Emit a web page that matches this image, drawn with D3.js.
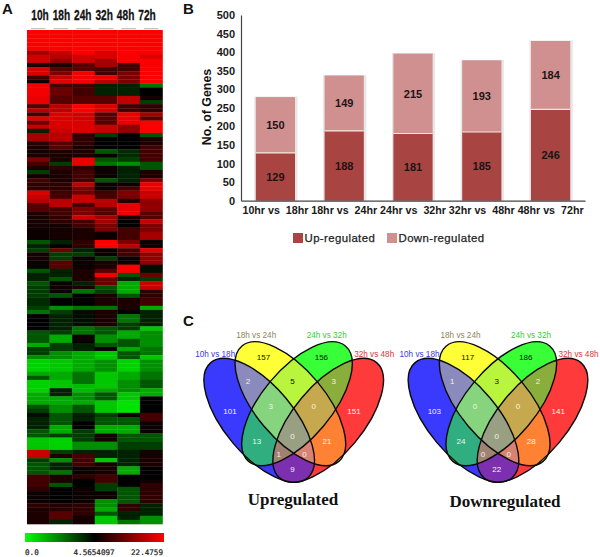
<!DOCTYPE html>
<html>
<head>
<meta charset="utf-8">
<style>
html, body { margin: 0; padding: 0; background: #fff; }
svg { display: block; }
text { font-family: "Liberation Sans", Arial, sans-serif; }
</style>
<script src="https://cdn.jsdelivr.net/npm/d3@7"></script>
</head>
<body>
<script>
// heat map, one array per time point, top row first
var heatColumns = ["10h", "18h", "24h", "32h", "48h", "72h"];
var col10h = [22,22,22,22,22,13,17,17,6,18,
  18,8,5,21,21,21,20,20,9,14,
  8,19,10,16,4,13,13,7,6,5.5,
  6,11,8,6,3.5,5,8,7,7,18,
  16,14,9,9,6,6,5.5,5.5,5,5,
  5,3,4,3.5,5.5,5.5,5,5,3,4,
  4,3,3.5,3.5,3.5,3.8,3.8,3.5,2.5,4.8,
  4.8,4.8,4.8,3,3,3,1.5,3.5,3.5,2,
  .8,.8,.8,1.5,3,.8,.8,.8,1.5,1.5,
  1.5,3,3.5,4.4,4,4,4,3,3,1,
  1,1,16,16,3.5,3,3,3,8,8,
  8,7,5,5,5,7,6,6,6,6];
var col18h = [22,22,22,22,22,16,14,12,6,9,
  11,16,19,8,10,10,9,9,14,14,
  18,18,18,18,16,14,14,9,9,6,
  6,6,3.5,7,6,6,6,7,7,8,
  8,14,14,8,8,7,7,5.5,5.5,5.5,
  5.5,4,4.8,10,3.5,3.5,9,9,4,4,
  3,5,5,5,3,4.5,4.5,2,3.5,4,
  4,4,4,3.5,1.5,1.5,3.5,3.5,2,2,
  1,1,1,1.5,1.5,1,1,4,4,1.5,
  1.5,2,2,3,3,3,1.5,1.5,3.5,.8,
  .8,.8,3.5,6,2,4,4,2.5,6,6,
  3,4.8,4.8,4.8,4.8,6.5,6.5,9,9,4];
var col24h = [22,22,22,22,22,22,17,17,9,9,
  21,21,21,8,8,8,9,9,22,22,
  17,17,18,18,18,7,7,7,6,6,
  6,20,20,7,8,8,8,15,11,10,
  16,16,8,11,11,17,8,8,6,6,
  6,7,7,4,3.5,5,5,5,6,6,
  6,4,6,2.5,4.5,4.5,4.5,2.5,4.4,4.4,
  4.4,4.4,2.5,2.5,5,5,4,4,1.5,1.5,
  1.5,1.5,1.5,2.5,2.5,2.5,1.2,1.2,2,2,
  1.5,3,3,4,4,4.5,4.5,3.5,3.5,3.5,
  2,2,4,8,8,8,5,5,7,4.5,
  4.5,5,5,5,5,7,7,7,5.5,5.5];
var col32h = [22,22,22,22,22,18,18,13,13,8,
  8,20,14,4,4,4,9,9,18,18,
  9,9,9,16,16,3.5,4.5,4.5,4.5,3,
  5,3,2.5,5,5,5,3,5,5,8,
  8,14,14,9,9,13,13,11,11,5,
  5,22,22,5,5,3.5,6,6,9,21,
  10,10,3,3.5,6,6,6,2.5,6,6,
  6,6,3,3,2,2,3,5,1,1,
  2,2,2,1,1,1,1,1.5,3,3,
  1,1,1,3.5,3,3,1.5,1.5,5.5,5.5,
  2,2,4,4,1,5.5,5.5,5.5,8,8,
  3.5,3.5,5,5,2,2,1.5,3,1,1];
var col48h = [22,22,22,22,22,22,22,22,8,8,
  11,11,11,4,4,4,15,15,8,8,
  20,20,20,12,12,4.5,4.5,4.5,4.5,3.8,
  3.8,3.5,2,4,4,4,4,5,8,11,
  11,6,20,20,20,6,4.8,4.8,8,8,
  8,11,15,8,8,5,5,22,22,3,
  4,1.5,1.5,1.5,3,6,6,6,4.6,2.5,
  2.5,3.5,3.5,1.5,1.5,3,3,1.5,3,3,
  .8,.8,.8,1.5,1.5,2,2,2,1,1,
  .5,.5,.5,5,3,3,1.5,1.5,3,3,
  3.5,3.5,4,4,4,4,1.5,1.5,4.5,4.5,
  4.5,3,3,3,3,7,7,4,4,2.5];
var col72h = [22,22,22,22,22,22,18,22,22,22,
  22,22,22,2.5,4.5,4.5,5.5,3.5,7,7,
  13,9,22,22,22,3,6,6,8,8,
  8,8,3,3,6,6,11,20,20,16,
  16,12,12,12,9,9,16,11,11,13,
  13,5,5,19,12,12,12,4.4,4.4,10,
  3.5,16,16,7,7,8,8,1.5,4,4,
  4,4,1,2,2,2,2,2.5,2.5,1,
  2,2,2,2.5,2.5,3,3,1.5,1.5,4.8,
  4.8,4.8,4.8,8,8,5,5,5,3,3,
  3.5,3.5,5.5,5.5,6,6,4.6,4.6,4.6,5,
  7,7,7,7,7,4,4,4,2,2];
var heatValues = [col10h, col18h, col24h, col32h, col48h, col72h];
var heatLegend = ["0.0", "4.5654097", "22.4759"];

// stacked bars
var comparisons = ["10hr vs  18hr", "18hr vs  24hr", "24hr vs  32hr", "32hr vs  48hr", "48hr vs  72hr"];
var upRegulated = [129, 188, 181, 185, 246];
var downRegulated = [150, 149, 215, 193, 184];

// venn counts, same order as vennRegions below
var vennUp = [101, 157, 156, 151, 2, 5, 3, 3, 0, 13, 21, 0, 1, 0, 9];
var vennDown = [103, 117, 186, 141, 1, 3, 2, 0, 0, 24, 28, 0, 0, 0, 22];
var vennSets = ["10h vs 18h", "18h vs 24h", "24h vs 32h", "32h vs 48h"];

var width = 600, height = 557;
var svg = d3.select("body").append("svg")
    .attr("width", width)
    .attr("height", height)
    .style("background", "#fff");

function panelLetter(s, x, y) {
  svg.append("text").attr("x", x).attr("y", y).text(s)
      .attr("font-size", 15).attr("font-weight", "bold").attr("fill", "#111");
}
panelLetter("A", 2, 14);
panelLetter("B", 183, 14);
panelLetter("C", 183, 326);

// ---- A: heat map
var heatX = d3.scaleBand().domain(heatColumns).range([27, 162.5]);
var heatY = d3.scaleBand().domain(d3.range(col10h.length)).range([30, 524]);
var heatColor = d3.scaleLinear()
    .domain([0, 4.5654097, 14, 22.4759])
    .range(["#00ff00", "#000000", "#b80000", "#ff0000"])
    .clamp(true);

// the source is a soft raster, a slight blur keeps the rows from looking too crisp
svg.append("defs").append("filter").attr("id", "soft")
    .append("feGaussianBlur").attr("stdDeviation", 0.45);

var heatLabelX = d3.scalePoint().domain(heatColumns).range([40, 147]);
heatColumns.forEach(function(c) {
  svg.append("text")
      .attr("transform", "translate(" + heatLabelX(c) + ",20) scale(0.7,1)")
      .attr("text-anchor", "middle")
      .attr("font-size", 14.5).attr("font-weight", "bold").attr("fill", "#111")
      .attr("stroke", "#111").attr("stroke-width", 0.3)
      .text(c);
});

svg.selectAll("rect.stub")
    .data(heatColumns)
    .enter().append("rect").attr("class", "stub")
    .attr("x", function(d) { return heatX(d) + 4; })
    .attr("y", 28)
    .attr("width", heatX.bandwidth() - 8)
    .attr("height", 1.2)
    .attr("fill", "#c4c4c4");

svg.append("g").attr("filter", "url(#soft)").selectAll("g")
    .data(heatValues)
    .enter().append("g")
    .attr("transform", function(d, i) { return "translate(" + heatX(heatColumns[i]) + ",0)"; })
    .selectAll("rect")
    .data(function(d) { return d; })
    .enter().append("rect")
    .attr("y", function(d, i) { return heatY(i); })
    .attr("width", heatX.bandwidth() + 0.3)
    .attr("height", heatY.bandwidth() + 0.3)
    .attr("fill", function(d) { return heatColor(d); });

var grad = svg.append("defs").append("linearGradient").attr("id", "heatGrad");
grad.selectAll("stop")
    .data(["#00ff00", "#000000", "#ff0000"])
    .enter().append("stop")
    .attr("offset", function(d, i) { return i / 2; })
    .attr("stop-color", function(d) { return d; });
svg.append("rect")
    .attr("x", 25).attr("y", 533).attr("width", 139).attr("height", 9)
    .attr("fill", "url(#heatGrad)");
var legendPos = [25, 73.5, 131];
heatLegend.forEach(function(t, i) {
  svg.append("text")
      .attr("x", legendPos[i]).attr("y", 555)
      .attr("font-size", 7.6).attr("fill", "#222")
      .attr("stroke", "#222").attr("stroke-width", 0.2)
      .style("font-family", "'DejaVu Sans Mono', monospace")
      .text(t);
});

// ---- B: stacked bars
var barX = d3.scaleBand().domain(comparisons).range([241, 585]).paddingInner(0.43).paddingOuter(0.215);
var barY = d3.scaleLinear().domain([0, 500]).range([200.7, 15]);
var upColor = "#a84442", downColor = "#d09090";

var stack = d3.stack().keys(["up", "down"])(comparisons.map(function(c, i) {
  return { name: c, up: upRegulated[i], down: downRegulated[i] };
}));

// pale shadow behind each column
svg.append("g").selectAll("rect")
    .data(stack[1])
    .enter().append("rect")
    .attr("x", function(d) { return barX(d.data.name) - 1.5; })
    .attr("y", function(d) { return barY(d[1]) - 0.5; })
    .attr("width", barX.bandwidth() + 4)
    .attr("height", function(d) { return barY(0) - barY(d[1]) + 0.5; })
    .attr("fill", "#e8e6e6");

svg.append("g").selectAll("g")
    .data(stack)
    .enter().append("g")
    .attr("fill", function(d) { return d.key === "up" ? upColor : downColor; })
    .selectAll("rect")
    .data(function(d) { return d; })
    .enter().append("rect")
    .attr("x", function(d) { return barX(d.data.name); })
    .attr("y", function(d) { return barY(d[1]); })
    .attr("width", barX.bandwidth())
    .attr("height", function(d) { return barY(d[0]) - barY(d[1]); });

// thin light seam between the two segments
svg.append("g").selectAll("line")
    .data(stack[0])
    .enter().append("line")
    .attr("x1", function(d) { return barX(d.data.name); })
    .attr("x2", function(d) { return barX(d.data.name) + barX.bandwidth(); })
    .attr("y1", function(d) { return barY(d[1]); })
    .attr("y2", function(d) { return barY(d[1]); })
    .attr("stroke", "#f6e8d8").attr("stroke-width", 1.2);

stack.forEach(function(s) {
  svg.append("g").selectAll("text")
      .data(s)
      .enter().append("text")
      .attr("x", function(d) { return barX(d.data.name) + barX.bandwidth() / 2; })
      .attr("y", function(d) { return barY((d[0] + d[1]) / 2) + 4; })
      .attr("text-anchor", "middle")
      .attr("font-size", 11).attr("font-weight", "bold").attr("fill", "#1c1414")
      .text(function(d) { return d[1] - d[0]; });
});

var yAxis = svg.append("g").attr("transform", "translate(241,0)")
    .call(d3.axisLeft(barY).tickValues(d3.range(0, 501, 50)).tickSize(0).tickPadding(6));
var xAxis = svg.append("g").attr("transform", "translate(0,200.7)")
    .call(d3.axisBottom(barX).tickSize(0).tickPadding(6));
[yAxis, xAxis].forEach(function(a) {
  a.select(".domain").attr("stroke", "#444").attr("stroke-width", 1.2);
  a.selectAll("text")
      .attr("font-size", 11).attr("font-weight", "bold").attr("fill", "#1a1a1a")
      .style("font-family", "'Liberation Sans', Arial, sans-serif");
});
xAxis.selectAll("text").style("white-space", "pre").attr("font-size", 10.7);

svg.append("text")
    .attr("transform", "translate(211,107) rotate(-90)")
    .attr("text-anchor", "middle")
    .attr("font-size", 12.4).attr("font-weight", "bold").attr("fill", "#111")
    .text("No. of Genes");

var barLegend = svg.append("g");
[["Up-regulated", upColor, 293], ["Down-regulated", downColor, 387]].forEach(function(d) {
  barLegend.append("rect").attr("x", d[2]).attr("y", 233).attr("width", 10).attr("height", 10).attr("fill", d[1]);
  barLegend.append("text").attr("x", d[2] + 11.5).attr("y", 241.5)
      .attr("font-size", 11.4).attr("fill", "#222").attr("stroke", "#222").attr("stroke-width", 0.25)
      .style("letter-spacing", "0.4px")
      .text(d[0]);
});

// ---- C: four-ellipse venns
var ellipses = [
  { id: "b", dx: -34.5, cy: 420.3, rot: 50, fill: "#3a3aff" },
  { id: "y", dx: -3.3, cy: 403.7, rot: 50, fill: "#ffff38" },
  { id: "g", dx: 3.3, cy: 403.7, rot: -50, fill: "#38ff38" },
  { id: "r", dx: 34.5, cy: 420.3, rot: -50, fill: "#ff3a3a" }
];
var rx = 75.3, ry = 34.7;

function ellipseAttrs(sel, e) {
  sel.attr("rx", rx).attr("ry", ry)
     .attr("transform", "translate(" + e.dx + "," + e.cy + ") rotate(" + e.rot + ")");
}
var byId = {};
ellipses.forEach(function(e) { byId[e.id] = e; });

var clipDefs = svg.append("defs");
ellipses.forEach(function(e) {
  clipDefs.append("clipPath").attr("id", "clip-" + e.id)
      .append("ellipse").call(ellipseAttrs, e);
});

// overlaps blend the colours evenly, so each one gets its own fill
var overlaps = [
  ["by", "#8a8abc"], ["bg", "#30ae80"], ["br", "#7c30b0"],
  ["yg", "#b9f53c"], ["yr", "#ff8234"], ["gr", "#8aae3c"],
  ["byg", "#86d47e"], ["bgr", "#a08272"], ["byr", "#d88274"], ["ygr", "#c6a94e"],
  ["bygr", "#989f82"]
];

var vennRegions = [
  { x: -63.7, y: 302 }, { x: -30.3, y: 142 }, { x: 27.7, y: 142 }, { x: 60.3, y: 302 },
  { x: -45.7, y: 213 }, { x: -1.3, y: 213 }, { x: 40, y: 213 },
  { x: -23, y: 289 }, { x: 20, y: 289 },
  { x: -37, y: 394 }, { x: 33.3, y: 394 },
  { x: -1.3, y: 377 }, { x: -15, y: 431 }, { x: 10.7, y: 431 }, { x: -1.3, y: 478 }
];
var darkLabels = [false, true, true, false, false, true, false, false, false, false, false, false, false, false, false];

var setLabelPos = [
  { x: -78.5, y: 357, c: "#3a3ad8" }, { x: -37.5, y: 338, c: "#8c8458" },
  { x: 33, y: 338, c: "#33cc33" }, { x: 80.5, y: 357, c: "#e03434" }
];

function drawVenn(axisX, counts, title, titleX, titleY) {
  var g = svg.append("g").attr("transform", "translate(" + axisX + ",0)");

  ellipses.forEach(function(e) {
    g.append("ellipse").call(ellipseAttrs, e).attr("fill", e.fill);
  });

  overlaps.forEach(function(o) {
    var ids = o[0].split("");
    var host = g;
    ids.slice(1).forEach(function(id) {
      host = host.append("g").attr("clip-path", "url(#clip-" + id + ")");
    });
    host.append("ellipse").call(ellipseAttrs, byId[ids[0]]).attr("fill", o[1]);
  });

  ellipses.forEach(function(e) {
    g.append("ellipse").call(ellipseAttrs, e)
        .attr("fill", "none").attr("stroke", "#0a0a0a").attr("stroke-width", 1.4);
  });

  g.selectAll("text.count")
      .data(counts)
      .enter().append("text").attr("class", "count")
      .attr("x", function(d, i) { return vennRegions[i].x; })
      .attr("y", function(d, i) { return vennRegions[i].y / 3 + 310 + 3; })
      .attr("text-anchor", "middle")
      .attr("font-size", 8)
      .attr("fill", function(d, i) { return darkLabels[i] ? "#111" : "#f4f2e6"; })
      .text(function(d) { return d; });

  g.selectAll("text.setname")
      .data(vennSets)
      .enter().append("text").attr("class", "setname")
      .attr("x", function(d, i) { return setLabelPos[i].x; })
      .attr("y", function(d, i) { return setLabelPos[i].y; })
      .attr("text-anchor", "middle")
      .attr("font-size", 8.2)
      .attr("fill", function(d, i) { return setLabelPos[i].c; })
      .text(function(d) { return d; });

  svg.append("text")
      .attr("x", titleX).attr("y", titleY)
      .attr("text-anchor", "middle")
      .attr("font-size", 17).attr("font-weight", "bold").attr("fill", "#111")
      .style("font-family", "'Liberation Serif', 'Times New Roman', serif")
      .text(title);
}

drawVenn(293.7, vennUp, "Upregulated", 293, 505);
drawVenn(498, vennDown, "Downregulated", 505, 507);
</script>
</body>
</html>
